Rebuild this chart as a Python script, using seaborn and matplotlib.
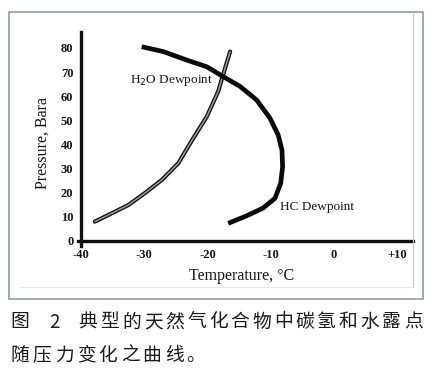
import matplotlib
matplotlib.use("Agg")
import matplotlib.pyplot as plt
import seaborn as sns
import pandas as pd
from matplotlib.patches import Rectangle
from matplotlib.lines import Line2D

# curves (temperature degC, pressure bara)
hc_temp = [-30.4, -27.0, -23.3, -20.1, -17.5, -14.8, -12.2, -10.1, -8.8, -8.2, -8.1,
           -8.4, -9.3, -11.2, -13.8, -16.7]
hc_pres = [80.5, 78.5, 75.0, 72.2, 68.1, 64.0, 58.4, 50.9, 43.9, 37.7, 30.8,
           23.9, 17.7, 13.6, 10.4, 7.3]
h2o_temp = [-37.8, -35.1, -32.5, -29.9, -27.2, -24.6, -22.6, -20.1, -18.3, -17.2, -16.4]
h2o_pres = [8.0, 11.5, 14.9, 19.8, 25.3, 32.2, 41.0, 51.5, 61.9, 71.6, 78.5]

x_ticks = [-40, -30, -20, -10, 0, 10]
x_labels = ["-40", "-30", "-20", "-10", "0", "+10"]
y_ticks = [0, 10, 20, 30, 40, 50, 60, 70, 80]

caption1 = ["图", "2", "典", "型", "的", "天", "然", "气", "化", "合", "物", "中", "碳", "氢", "和", "水", "露", "点"]
caption2 = "随压力变化之曲线。"

hc = pd.DataFrame({"T": hc_temp, "P": hc_pres})
h2o = pd.DataFrame({"T": h2o_temp, "P": h2o_pres})

sns.set_style("white")
plt.rcParams["font.family"] = ["Liberation Serif", "DejaVu Serif"]

W, H = 438, 368
fig = plt.figure(figsize=(W / 100, H / 100), dpi=100)

# outer frame of the figure box
fig.patches.append(Rectangle((9 / W, 1 - 299 / H), (423 - 9) / W, (299 - 12) / H,
                             transform=fig.transFigure, fill=False,
                             edgecolor="#8fa6ae", linewidth=1.3))
fig.lines.append(Line2D([413 / W, 413 / W], [1 - 12 / H, 1 - 287 / H],
                        transform=fig.transFigure, color="#c8c8c8", lw=0.8))
fig.lines.append(Line2D([20 / W, 413 / W], [1 - 287 / H, 1 - 287 / H],
                        transform=fig.transFigure, color="#e6e6e6", lw=0.8))

ax = fig.add_axes([78 / W, 1 - 246 / H, (413 - 78) / W, (246 - 32) / H])
ax.set_facecolor("none")

sns.lineplot(data=h2o, x="T", y="P", sort=False, estimator=None, ax=ax,
             color="#111111", lw=3.0)
sns.lineplot(data=h2o, x="T", y="P", sort=False, estimator=None, ax=ax,
             color="#9a9a9a", lw=1.1)
sns.lineplot(data=hc, x="T", y="P", sort=False, estimator=None, ax=ax,
             color="#0a0a0a", lw=3.4, solid_capstyle="butt")

ax.set_xlim(-40.47, 12.53)
ax.set_ylim(-2.1, 86.6)
ax.spines["top"].set_visible(False)
ax.spines["right"].set_visible(False)
ax.spines["left"].set_position(("data", -40))
ax.spines["bottom"].set_position(("data", 0))
for s in ("left", "bottom"):
    ax.spines[s].set_linewidth(2.4)
    ax.spines[s].set_color("#111111")

ax.set_xticks(x_ticks)
ax.set_xticklabels(x_labels)
ax.set_yticks(y_ticks)
ax.tick_params(direction="inout", length=9, width=1.6, color="#111111",
               labelsize=9, pad=1)
for lab in ax.get_xticklabels() + ax.get_yticklabels():
    lab.set_fontweight("bold")
    lab.set_color("#151515")

ax.set_xlabel("")
ax.set_ylabel("")
fig.text(242 / W, 1 - 276 / H, "Temperature, °C", ha="center", va="center",
         fontsize=11.5, color="#151515")
fig.text(43 / W, 1 - 143 / H, "Pressure, Bara", ha="center", va="center",
         rotation=90, fontsize=11.5, color="#151515")

ax.text(-32.2, 66.7, "H$_2$O Dewpoint", ha="left", va="center", fontsize=9.5,
        color="#151515")
ax.text(-8.5, 14.1, "HC Dewpoint", ha="left", va="center", fontsize=9.5,
        color="#151515")

# caption, characters spaced as in the print
cjk = ["Noto Sans CJK SC", "DejaVu Sans"]
xs1 = [20, 54] + [88 + 21.7 * i for i in range(16)]
for ch, x in zip(caption1, xs1):
    fig.text(x / W, 1 - 322 / H, ch, ha="center", va="center", fontsize=13.5,
             family=cjk, color="#1a1a1a")
for i, ch in enumerate(caption2):
    fig.text((20 + 22 * i) / W, 1 - 355 / H, ch, ha="center", va="center",
             fontsize=13.5, family=cjk, color="#1a1a1a")

fig.savefig("out.png", dpi=100)
